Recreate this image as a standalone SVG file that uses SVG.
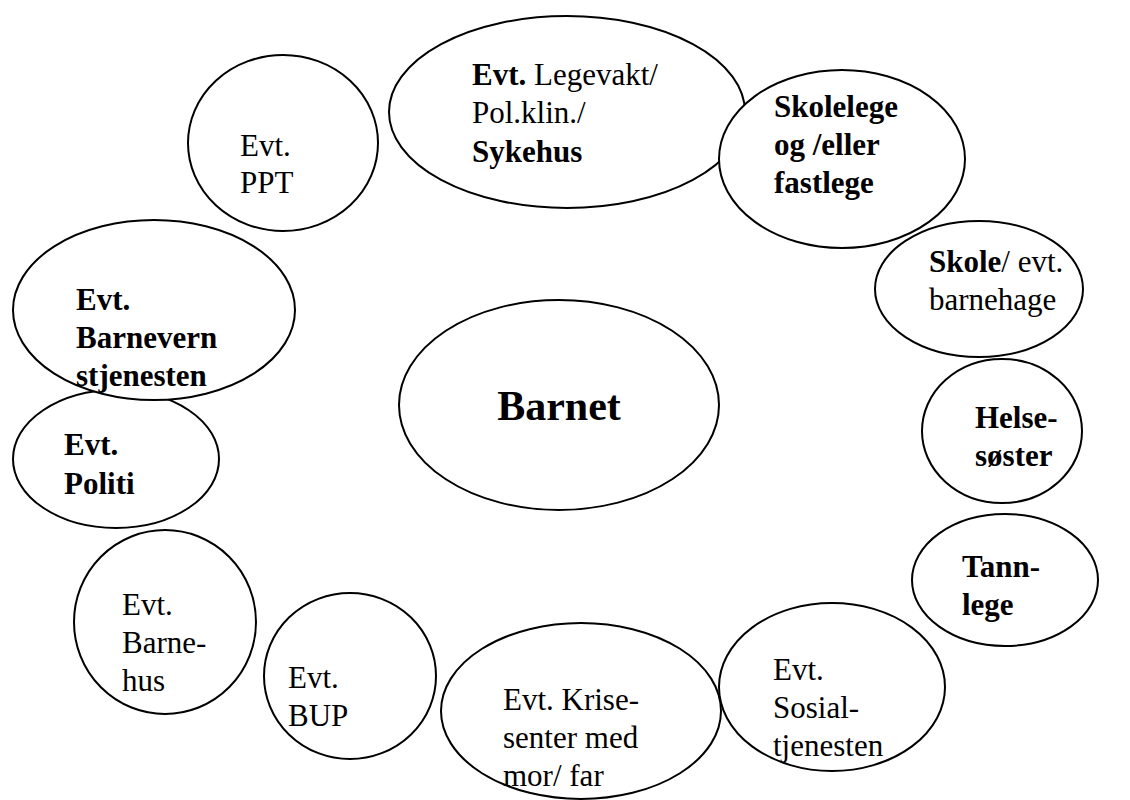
<svg xmlns="http://www.w3.org/2000/svg" width="1130" height="800" viewBox="0 0 1130 800">
<style>
.n{fill:#fff;stroke:#000;stroke-width:2}
.b{font-weight:bold}
</style>
<rect width="1130" height="800" fill="#fff"/>
<g id="connectors"></g>
<g font-family="Liberation Serif, Times New Roman, serif" font-size="31" fill="#000">
<g id="ppt"><ellipse class="n" cx="283" cy="143" rx="95" ry="88"/><text x="240" y="156">Evt.</text><text x="240" y="193">PPT</text></g>
<g id="legevakt"><ellipse class="n" cx="567" cy="112" rx="178" ry="96"/><text x="472" y="85"><tspan class="b">Evt.</tspan> Legevakt/</text><text x="472" y="123">Pol.klin./</text><text x="472" y="162" class="b">Sykehus</text></g>
<g id="skolelege"><ellipse class="n" cx="842" cy="159" rx="123" ry="89"/><text class="b" x="774" y="117">Skolelege</text><text class="b" x="774" y="155">og /eller</text><text class="b" x="774" y="193">fastlege</text></g>
<g id="skole"><ellipse class="n" cx="979" cy="289" rx="104" ry="68"/><text x="929" y="272"><tspan class="b">Skole</tspan>/ evt.</text><text x="929" y="310">barnehage</text></g>
<g id="helsesoster"><ellipse class="n" cx="1002" cy="431" rx="80" ry="72"/><text class="b" x="975" y="428">Helse-</text><text class="b" x="975" y="466">søster</text></g>
<g id="tannlege"><ellipse class="n" cx="1005" cy="580" rx="93" ry="66"/><text class="b" x="962" y="577">Tann-</text><text class="b" x="962" y="615">lege</text></g>
<g id="sosial"><ellipse class="n" cx="832" cy="687" rx="113" ry="84"/><text x="773" y="680">Evt.</text><text x="773" y="718">Sosial-</text><text x="773" y="756">tjenesten</text></g>
<g id="krise"><ellipse class="n" cx="581" cy="711" rx="140" ry="88"/><text x="503" y="710">Evt. Krise-</text><text x="503" y="748">senter med</text><text x="503" y="786">mor/ far</text></g>
<g id="bup"><ellipse class="n" cx="350" cy="676" rx="86" ry="83"/><text x="288" y="688">Evt.</text><text x="288" y="726">BUP</text></g>
<g id="barnehus"><ellipse class="n" cx="165" cy="622" rx="91" ry="92"/><text x="122" y="615">Evt.</text><text x="122" y="653">Barne-</text><text x="122" y="691">hus</text></g>
<g id="politi"><ellipse class="n" cx="116" cy="459" rx="103" ry="69"/><text class="b" x="64" y="455">Evt.</text><text class="b" x="64" y="494">Politi</text></g>
<g id="barnevern"><ellipse class="n" cx="154" cy="310" rx="141" ry="90"/><text class="b" x="76" y="310">Evt.</text><text class="b" x="76" y="348">Barnevern</text><text class="b" x="76" y="386">stjenesten</text></g>
<g id="barnet"><ellipse class="n" cx="559" cy="405" rx="160" ry="105"/><text class="b" font-size="42" x="559" y="420" text-anchor="middle">Barnet</text></g>
</g>
</svg>
